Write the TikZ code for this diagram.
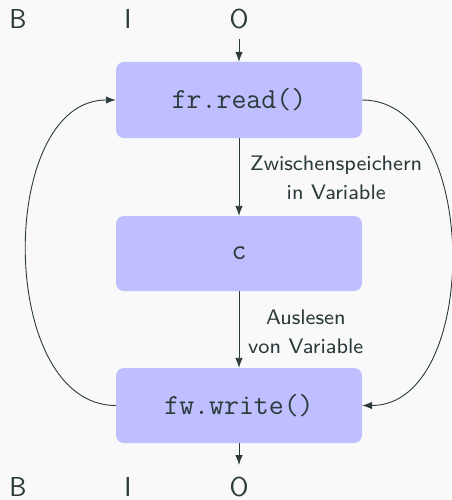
\documentclass[tikz,border=0pt]{standalone}
\usepackage{fontspec}
\newfontfamily\lblfont{lmsans8-regular.otf}
\usetikzlibrary{arrows.meta}
\definecolor{bg}{HTML}{F9F9F9}
\definecolor{boxfill}{HTML}{BFBFFF}
\definecolor{ink}{HTML}{2B3A3A}
\begin{document}
\begin{tikzpicture}[x=1pt,y=-1pt,
  every node/.style={text=ink},
  codebox/.style={fill=boxfill, rounded corners=8pt, minimum width=246pt, inner sep=0pt,
    font=\fontsize{29}{32}\selectfont\ttfamily},
  letter/.style={anchor=base, font=\fontsize{27.4}{32}\selectfont\sffamily},
  lbl/.style={anchor=west, align=center, inner sep=0pt,
    font=\fontsize{21}{29}\selectfont\lblfont},
  conn/.style={draw=ink, line width=0.9pt, -{Latex[length=10pt,width=7.5pt]}}
]
\fill[bg] (0,0) rectangle (451,500);
\useasboundingbox (0,0) rectangle (451,500);

\node[letter] (b1) at (18,29) {B};
\node[letter] (i1) at (128,29) {I};
\node[letter] (o1) at (239,29) {O};
\node[letter] (b2) at (18,496) {B};
\node[letter] (i2) at (128,496) {I};
\node[letter] (o2) at (239,496) {O};

\node[codebox, minimum height=76pt] (read) at (239,100) {fr.read()};
\node[codebox, minimum height=75pt] (c) at (239,253.5) {c};
\node[codebox, minimum height=75pt] (write) at (239,405.5) {fw.write()};

\coordinate (tin) at (239,39);
\coordinate (tout) at (239,465);

\draw[conn] (tin) -- (read.north);
\draw[conn] (read.south) -- (c.north);
\draw[conn] (c.south) -- (write.north);
\draw[conn] (write.south) -- (tout);

\node[lbl] (l1) at (250,177.5) {Zwischenspeichern\\in Variable};
\node[lbl] (l2) at (248,331.5) {Auslesen\\von Variable};

\draw[conn] (read.east) to[out=0,in=0,looseness=1] (write.east);
\draw[conn] (write.west) to[out=180,in=180,looseness=1] (read.west);
\end{tikzpicture}
\end{document}
